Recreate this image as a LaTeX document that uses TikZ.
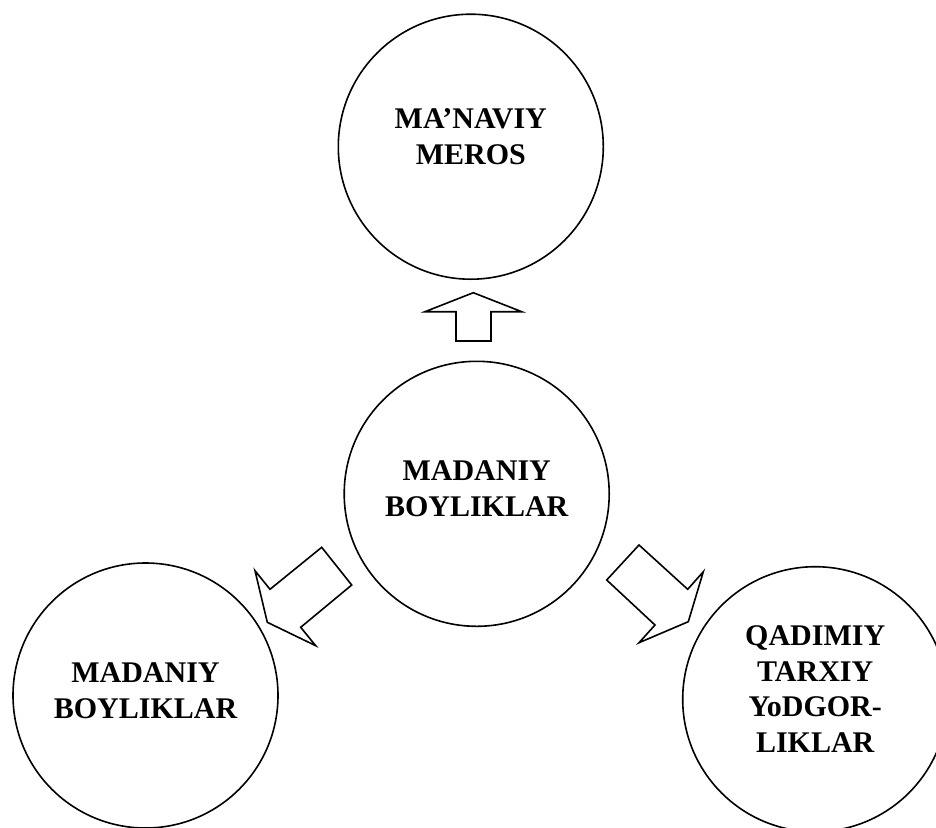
\documentclass[tikz,border=0pt]{standalone}
\usepackage{fontspec}
\setmainfont{Liberation Serif}
\begin{document}
\begin{tikzpicture}[x=1pt,y=-1pt,
  ring/.style={draw=black,line width=1.6pt,circle,minimum size=265pt,inner sep=0pt},
  lbl/.style={font=\bfseries\fontsize{30}{35.5}\selectfont,align=center,inner sep=0pt},
  blockarrow/.style={draw=black,line width=1.6pt,line join=miter,fill=white}]
\useasboundingbox (0,0) rectangle (936,827);
\node[ring] (top) at (470.8,146.7) {};
\node[ring] (mid) at (476.7,493.8) {};
\node[ring] (lft) at (145.5,695.5) {};
\node[ring] (rgt) at (815.2,699.2) {};
\node[lbl] (ttop) at ([yshift=10pt]top.center) {MA’NAVIY\\MEROS};
\node[lbl] (tmid) at ([yshift=5pt]mid.center) {MADANIY\\BOYLIKLAR};
\node[lbl] (tlft) at ([yshift=5pt]lft.center) {MADANIY\\BOYLIKLAR};
\node[lbl] (trgt) at ([yshift=10pt]rgt.center) {QADIMIY\\TARXIY\\YoDGOR-\\LIKLAR};
\draw[blockarrow] (473.3,292.7) -- (521.7,311.7) -- (491,311.7) -- (491,341) -- (456,341) -- (456,311.7) -- (425,311.7) -- cycle;
\draw[blockarrow] (321.7,547.3) -- (351.7,585) -- (300.7,627.3) -- (315.7,645.7) -- (267.3,622.3) -- (255,570.7) -- (270,589.3) -- cycle;
\draw[blockarrow] (639,545) -- (606.7,580) -- (655,625) -- (639,642.7) -- (688.3,621.7) -- (703.3,571.7) -- (687.7,589.3) -- cycle;
\end{tikzpicture}
\end{document}
